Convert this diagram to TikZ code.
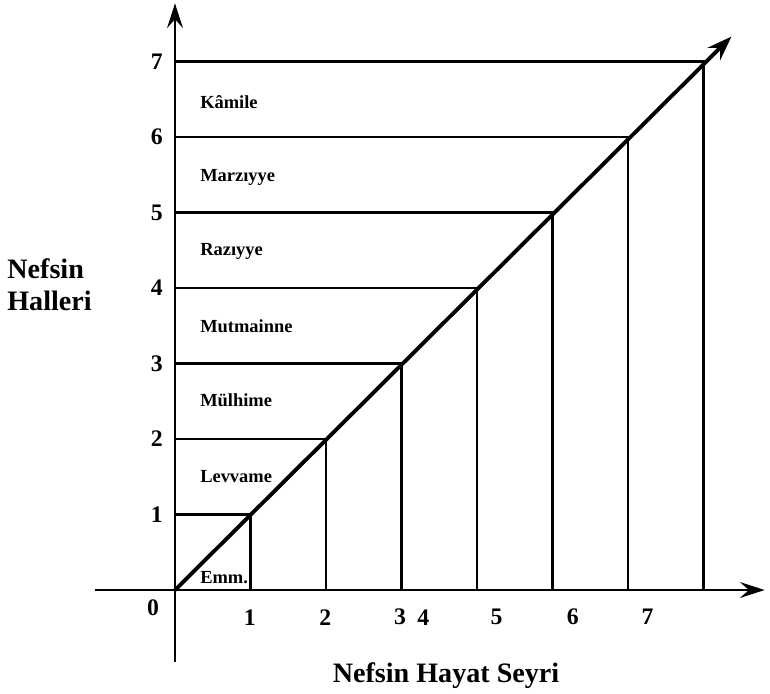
\documentclass[tikz,border=0pt]{standalone}
\usepackage{fontspec}
\setmainfont{Liberation Serif}
\usetikzlibrary{arrows.meta, positioning, calc}

\begin{document}
\begin{tikzpicture}[
  x=1.51cm, y=1.51cm,
  axis/.style={line width=1.6pt, -{Stealth[length=14pt, width=9pt, inset=5pt]}},
  rise/.style={line width=2.2pt, -{Stealth[length=14pt, width=10pt, inset=5pt, open]}},
  level/.style={line width=1.3pt},
  num/.style={font=\fontsize{13.5}{15}\selectfont\bfseries, inner sep=0pt},
  state/.style={font=\fontsize{10.5}{12}\selectfont\bfseries, anchor=west, inner sep=0pt},
  title/.style={font=\fontsize{16}{18}\selectfont\bfseries, align=left, inner sep=0pt}
]
\useasboundingbox (-2.318,-1.377) rectangle (7.881,7.815);

% axes
\coordinate (O) at (0,0);
\coordinate (xs) at (-1.06,0);
\coordinate (xe) at (7.81,0);
\coordinate (ys) at (0,-0.95);
\coordinate (ye) at (0,7.77);
\coordinate (top) at (7.37,7.33);
\draw[axis] (xs) -- (xe);
\draw[axis] (ys) -- (ye);

% levels of the nefs
\foreach \k in {1,...,7} {
  \coordinate (d\k) at (\k,\k);
  \coordinate (y\k) at (0,\k);
  \coordinate (x\k) at (\k,0);
  \draw[level] (y\k) -- (d\k) -- (x\k);
  \node[num] (ly\k) at (-0.24,\k) {\k};
}
\draw[rise] (O) -- (top);

% numbers on the time axis
\node[num] (l0) at (-0.29,-0.23) {0};
\foreach \x/\t in {0.99/1, 1.99/2, 2.98/3, 3.29/4, 4.26/5, 5.27/6, 6.26/7}
  \node[num] (lx\t) at (\x,-0.36) {\t};

% names of the states
\foreach \y/\t [count=\i] in {0.17/Emm., 1.50/Levvame, 2.52/Mülhime, 3.50/Mutmainne,
                              4.48/Razıyye, 5.47/Marzıyye, 6.46/Kâmile}
  \node[state] (s\i) at (0.33,\y) {\t};

\node[title, anchor=west] (hal) at (-2.225,4.04) {Nefsin\\Halleri};
\node[title] (seyr) at (3.59,-1.13) {Nefsin Hayat Seyri};
\end{tikzpicture}
\end{document}
